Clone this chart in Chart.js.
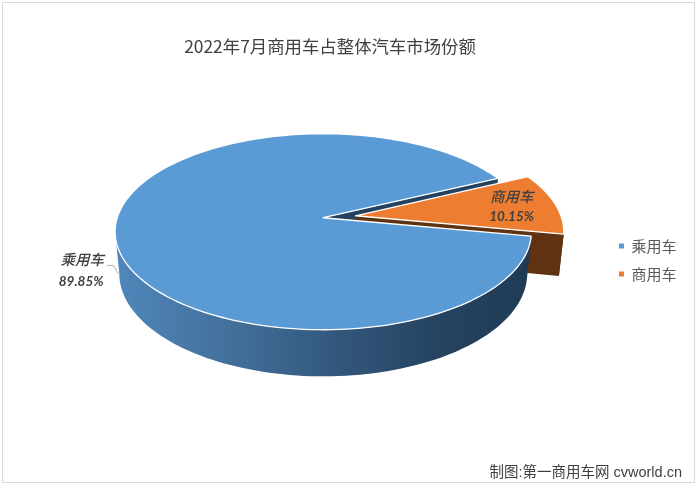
<!DOCTYPE html>
<html>
<head>
<meta charset="utf-8">
<title>2022年7月商用车占整体汽车市场份额</title>
<script src="https://cdn.jsdelivr.net/npm/chart.js@4"></script>
<style>
    html, body { margin: 0; padding: 0; background: #fff; }
    #box { position: relative; width: 695px; height: 488px; overflow: hidden; }
    #frame { position: absolute; left: 2px; top: 2px; width: 691px; height: 479px; border: 1px solid #d9d9d9; pointer-events: none; }
    canvas { display: block; }
</style>
</head>
<body>
<div id="box">
    <canvas id="pieChart" width="695" height="488"></canvas>
    <div id="frame"></div>
</div>
<script>
const categories = ['乘用车', '商用车'];
const shares = [89.85, 10.15];
const sliceColors = ['#5b9bd5', '#ed7d31'];

const titleText = '2022年7月商用车占整体汽车市场份额';
const creditText = '制图:第一商用车网 cvworld.cn';

// look of the tilted pie
const rimX = 206, rimY = 96, tilt = 0.1429;
const floorX = 0.98, floorY = 1.05, depth = 41;
const wallColors = ['#24415f', '#5f3212'];
const FONT_CJK = '"Noto Sans CJK SC"';

function tiltedPoint(el, angle, radius, floor) {
    const offset = (el.options.offset || 0) / el.outerRadius;
    const mid = (el.startAngle + el.endAngle) / 2;
    const u = offset * Math.cos(mid) + radius * Math.cos(angle);
    const v = offset * Math.sin(mid) + radius * Math.sin(angle);
    const w = 1 - tilt * v;
    let x = rimX * u / w;
    let y = rimY * v / w;
    if (floor) {
        x = x * floorX;
        y = y * floorY + depth;
    }
    return { x: el.x + x, y: el.y + y };
}

function rimPoints(el, from, to, floor) {
    const pts = [];
    const steps = Math.max(2, Math.ceil(Math.abs(to - from) / 0.03));
    for (let i = 0; i <= steps; i++) {
        pts.push(tiltedPoint(el, from + (to - from) * i / steps, 1, floor));
    }
    return pts;
}

function tracePath(ctx, pts) {
    ctx.beginPath();
    pts.forEach(function(p, i) {
        if (i === 0) ctx.moveTo(p.x, p.y);
        else ctx.lineTo(p.x, p.y);
    });
    ctx.closePath();
}

function drawTop(ctx, el, color) {
    const pts = [tiltedPoint(el, 0, 0, false)].concat(rimPoints(el, el.startAngle, el.endAngle, false));
    tracePath(ctx, pts);
    ctx.fillStyle = color;
    ctx.fill();
    ctx.strokeStyle = '#fff';
    ctx.lineWidth = 1.3;
    ctx.lineJoin = 'round';
    ctx.stroke();
}

function drawRadialWall(ctx, el, color) {
    const pts = [
        tiltedPoint(el, 0, 0, false),
        tiltedPoint(el, el.endAngle, 1, false),
        tiltedPoint(el, el.endAngle, 1, true),
        tiltedPoint(el, 0, 0, true)
    ];
    tracePath(ctx, pts);
    ctx.fillStyle = color;
    ctx.fill();
}

function drawOuterWall(ctx, el, from, to, fill) {
    const top = rimPoints(el, from, to, false);
    const bottom = rimPoints(el, from, to, true).reverse();
    tracePath(ctx, top.concat(bottom));
    ctx.fillStyle = fill;
    ctx.fill();
}

const layoutNudge = {
    id: 'layoutNudge',
    afterLayout(chart) {
        const legend = chart.legend;
        const shift = 606 - legend.left;
        legend.left += shift;
        legend.right += shift;
        legend.top += 16;
        legend.bottom += 16;
        chart.boxes.forEach(function(box) {
            if (box === legend || !box.options || box.options.text === undefined) return;
            box.left = 0;
            box.right = box.position === 'top' ? 660 : 682;
        });
    }
};

const tiltedPie = {
    id: 'tiltedPie',
    beforeDatasetsDraw(chart) {
        const ctx = chart.ctx;
        const arcs = chart.getDatasetMeta(0).data;
        const big = arcs[0], small = arcs[1];
        const TWO_PI = Math.PI * 2;

        ctx.save();
        // faces behind the big slice's top, back to front
        drawRadialWall(ctx, big, wallColors[0]);
        drawRadialWall(ctx, small, wallColors[1]);
        drawOuterWall(ctx, small, 0, small.endAngle % TWO_PI, wallColors[1]);

        const shade = ctx.createLinearGradient(big.x - rimX, 0, big.x + rimX, 0);
        shade.addColorStop(0, '#5086bb');
        shade.addColorStop(0.33, '#3f6b94');
        shade.addColorStop(0.55, '#31557a');
        shade.addColorStop(0.8, '#25425f');
        shade.addColorStop(1, '#203b55');
        drawOuterWall(ctx, big, big.startAngle, Math.PI - 0.143, shade);

        drawTop(ctx, big, sliceColors[0]);
        drawTop(ctx, small, sliceColors[1]);

        // data labels
        const bigMid = (big.startAngle + big.endAngle) / 2;
        const rim = tiltedPoint(big, bigMid, 1, false);
        ctx.strokeStyle = '#b3a99f';
        ctx.lineWidth = 1;
        ctx.beginPath();
        ctx.moveTo(rim.x - 8, rim.y + 35);
        ctx.lineTo(rim.x - 2, rim.y + 35);
        ctx.lineTo(rim.x + 3, rim.y + 43);
        ctx.stroke();

        ctx.fillStyle = '#404040';
        ctx.textAlign = 'center';
        ctx.textBaseline = 'middle';
        ctx.font = 'italic 500 14.5px ' + FONT_CJK;
        ctx.fillText(categories[0], rim.x - 33, rim.y + 29);
        ctx.font = 'italic bold 13.5px Lato';
        ctx.fillText(shares[0].toFixed(2) + '%', rim.x - 34, rim.y + 51);

        const inner = tiltedPoint(small, (small.startAngle + small.endAngle) / 2, 0.78, false);
        ctx.font = 'italic 500 14.5px ' + FONT_CJK;
        ctx.fillText(categories[1], inner.x, inner.y - 10);
        ctx.font = 'italic bold 13.5px Lato';
        ctx.fillText(shares[1].toFixed(2) + '%', inner.x, inner.y + 10);
        ctx.restore();
        return false;
    }
};

new Chart(document.getElementById('pieChart'), {
    type: 'pie',
    data: {
        labels: categories,
        datasets: [{
            data: shares,
            backgroundColor: sliceColors,
            borderWidth: 0,
            offset: [0, 22]
        }]
    },
    options: {
        responsive: false,
        animation: false,
        events: [],
        rotation: 100.8,
        layout: { padding: { left: 32 } },
        plugins: {
            tooltip: { enabled: false },
            title: {
                display: true,
                text: titleText,
                color: '#404040',
                font: { family: FONT_CJK, size: 17.4, weight: 'normal' },
                padding: { top: 36, bottom: 11 }
            },
            subtitle: {
                display: true,
                text: creditText,
                position: 'bottom',
                align: 'end',
                color: '#404040',
                font: { family: '"Liberation Sans", ' + FONT_CJK, size: 14.5, weight: 'normal' },
                padding: { top: 97, bottom: 6 }
            },
            legend: {
                position: 'right',
                labels: {
                    boxWidth: 5,
                    boxHeight: 5,
                    padding: 13,
                    color: '#595959',
                    font: { family: FONT_CJK, size: 15 }
                }
            }
        }
    },
    plugins: [layoutNudge, tiltedPie]
});
</script>
</body>
</html>
